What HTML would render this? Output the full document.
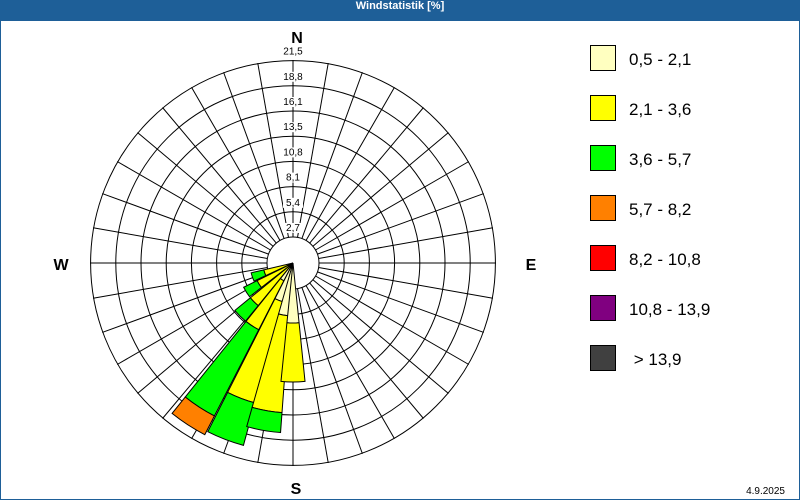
<!DOCTYPE html>
<html><head><meta charset="utf-8"><style>
html,body{margin:0;padding:0;background:#fff}
#w{position:absolute;left:0;top:0;width:798px;height:478px;border:1px solid #1e5f98;border-top:21px solid #1e5f98;overflow:hidden}
#t{position:absolute;left:0;top:0;width:800px;height:21px;line-height:20px;text-align:center;color:#fff;font:bold 11px "Liberation Sans",sans-serif;z-index:5}
</style></head><body>
<div id="w"></div>
<svg id="s" width="800" height="500" style="position:absolute;left:0;top:0" xmlns="http://www.w3.org/2000/svg"></svg>
<div id="t">Windstatistik [%]</div>
<script>
var s=document.getElementById('s'),cx=293,cy=263,R=203,r0=26,h='';
function P(a,r){var t=a*Math.PI/180;return [cx+r*Math.sin(t),cy-r*Math.cos(t)];}
function wedge(a,r1,r2,c){var w=5.8,p1=P(a-w,r1),p2=P(a+w,r1),p3=P(a+w,r2),p4=P(a-w,r2);
return '<path d="M'+p1+' A'+r1+' '+r1+' 0 0 1 '+p2+' L'+p3+' A'+r2+' '+r2+' 0 0 0 '+p4+' Z" fill="'+c+'" stroke="#000" stroke-width="1"/>';}
for(var k=0;k<8;k++){var r=r0+k*25.2;h+='<circle cx="'+cx+'" cy="'+cy+'" r="'+r+'" fill="none" stroke="#000" stroke-width="1"/>';}
for(var a=0;a<360;a+=10){var p=P(a,r0),q=P(a,R);h+='<line x1="'+p[0]+'" y1="'+p[1]+'" x2="'+q[0]+'" y2="'+q[1]+'" stroke="#000" stroke-width="1"/>';}
var LY='#ffffc0',Y='#ffff00',G='#00ff00',O='#ff8000';
var bars=[[251,[[Y,30],[G,43]]],[238,[[Y,40],[G,55]]],[225,[[Y,55],[G,75]]],[213,[[LY,20],[Y,75],[G,172],[O,193]]],[201,[[LY,40],[Y,145],[G,189]]],[190,[[LY,53],[Y,150],[G,170]]],[180,[[LY,60],[Y,119]]]];
bars.forEach(function(b){var r1=0;b[1].forEach(function(sg){h+=wedge(b[0],r1,sg[1],sg[0]);r1=sg[1];});});
var labs=['2,7','5,4','8,1','10,8','13,5','16,1','18,8','21,5'];
for(var k=0;k<8;k++){var y=cy-(r0+k*25.2)-6;h+='<rect x="'+(cx-10)+'" y="'+(y-8)+'" width="20" height="10" fill="#fff"/><text x="'+cx+'" y="'+y+'" font-size="10" text-anchor="middle" font-family="Liberation Sans">'+labs[k]+'</text>';}
h+='<text x="297" y="43" font-size="16" font-weight="bold" text-anchor="middle" font-family="Liberation Sans">N</text>';
h+='<text x="296" y="494" font-size="16" font-weight="bold" text-anchor="middle" font-family="Liberation Sans">S</text>';
h+='<text x="61" y="270" font-size="16" font-weight="bold" text-anchor="middle" font-family="Liberation Sans">W</text>';
h+='<text x="531" y="270" font-size="16" font-weight="bold" text-anchor="middle" font-family="Liberation Sans">E</text>';
var lg=[['#ffffc0','0,5 - 2,1'],['#ffff00','2,1 - 3,6'],['#00ff00','3,6 - 5,7'],['#ff8000','5,7 - 8,2'],['#ff0000','8,2 - 10,8'],['#800080','10,8 - 13,9'],['#404040','&#160;&gt; 13,9']];
lg.forEach(function(l,i){var y=45+i*50;h+='<rect x="590.5" y="'+(y+0.5)+'" width="25" height="25" fill="'+l[0]+'" stroke="#000"/><text x="629" y="'+(y+20)+'" font-size="17" font-family="Liberation Sans">'+l[1]+'</text>';});
h+='<text x="785" y="494" font-size="10" text-anchor="end" font-family="Liberation Sans">4.9.2025</text>';
s.innerHTML=h;
</script>
</body></html>
